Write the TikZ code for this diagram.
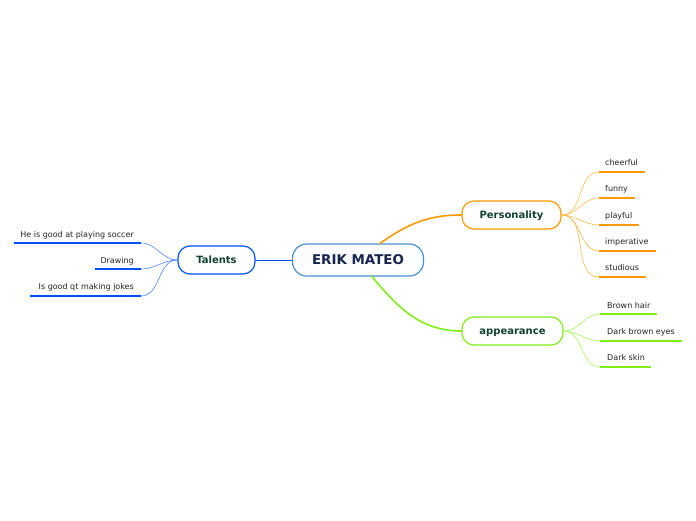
\documentclass[tikz,border=0pt]{standalone}
\usepackage{fontspec}
\setmainfont{DejaVu Sans}
\definecolor{hubline}{RGB}{74,144,206}
\definecolor{hubfill}{RGB}{252,253,255}
\definecolor{hubtext}{RGB}{22,36,78}
\definecolor{toptext}{RGB}{16,64,48}
\definecolor{persline}{RGB}{255,153,0}
\definecolor{appline}{RGB}{128,236,24}
\definecolor{talline}{RGB}{0,80,255}
\definecolor{leaftext}{RGB}{34,34,34}
\begin{document}
\begin{tikzpicture}[x=1pt, y=-1pt, line cap=round, line join=round,
    hub/.style={draw=hubline, fill=hubfill, line width=1.2pt, rounded corners=14pt,
      minimum width=131pt, minimum height=32pt, inner sep=0pt,
      text height=9.5pt, text depth=0pt,
      font=\fontsize{13.4}{15}\selectfont\bfseries, text=hubtext},
    topic/.style={draw=#1, fill=white, line width=1.2pt, rounded corners=12pt,
      minimum height=28pt, inner sep=0pt, text height=7.3pt, text depth=0pt,
      font=\fontsize{10}{12}\selectfont\bfseries, text=toptext},
    leaf/.style={inner sep=0pt, font=\fontsize{8}{10}\selectfont, text=leaftext},
    uline/.style={draw=#1, line width=2.2pt, line cap=butt},
    twig/.style={draw=#1!70, line width=0.6pt},
    limb/.style={draw=#1, line width=1.6pt}]
  \useasboundingbox (0,0) rectangle (696,520);
  % centre
  \node[hub] (erik) at (358,260) {ERIK MATEO};
  % the three topics
  \node[topic=persline, minimum width=99pt] (pers) at (511.5,215) {Personality};
  \node[topic=appline, minimum width=101pt] (app) at (512.5,331) {appearance};
  \node[topic=talline, minimum width=77pt] (tal) at (216.5,260) {Talents};
  \draw[limb=persline] ([xshift=22pt]erik.north) to[out=35,in=180] (pers.west);
  \draw[limb=appline] ([xshift=14pt]erik.south) to[out=-50,in=180] (app.west);
  \draw[talline, line width=0.8pt] (erik.west) -- (tal.east);
  % Personality
  \node[leaf, anchor=west] (cheer) at (605,163) {cheerful};
  \node[leaf, anchor=west] (funny) at (605,189) {funny};
  \node[leaf, anchor=west] (play) at (605,216) {playful};
  \node[leaf, anchor=west] (imp) at (605,242) {imperative};
  \node[leaf, anchor=west] (stud) at (605,268) {studious};
  \coordinate (cheerA) at (599,172); \coordinate (cheerB) at (645,172);
  \coordinate (funnyA) at (599,198); \coordinate (funnyB) at (635,198);
  \coordinate (playA) at (599,225); \coordinate (playB) at (639,225);
  \coordinate (impA) at (599,251); \coordinate (impB) at (656,251);
  \coordinate (studA) at (599,277); \coordinate (studB) at (646,277);
  \foreach \n in {cheer,funny,play,imp,stud}{
    \draw[twig=persline] (pers.east) to[out=0,in=180] (\n A);
    \draw[uline=persline] (\n A) -- (\n B);
  }
  % appearance
  \node[leaf, anchor=west] (hair) at (607,306) {Brown hair};
  \node[leaf, anchor=west] (eyes) at (607,332) {Dark brown eyes};
  \node[leaf, anchor=west] (skin) at (607,358) {Dark skin};
  \coordinate (hairA) at (600,314); \coordinate (hairB) at (657,314);
  \coordinate (eyesA) at (600,341); \coordinate (eyesB) at (682,341);
  \coordinate (skinA) at (600,367); \coordinate (skinB) at (651,367);
  \foreach \n in {hair,eyes,skin}{
    \draw[twig=appline] (app.east) to[out=0,in=180] (\n A);
    \draw[uline=appline] (\n A) -- (\n B);
  }
  % Talents
  \node[leaf, anchor=east] (soc) at (134,235) {He is good at playing soccer};
  \node[leaf, anchor=east] (draw) at (134,261) {Drawing};
  \node[leaf, anchor=east] (joke) at (134,287) {Is good qt making jokes};
  \coordinate (socA) at (141,243); \coordinate (socB) at (14,243);
  \coordinate (drawA) at (141,269); \coordinate (drawB) at (95,269);
  \coordinate (jokeA) at (141,296); \coordinate (jokeB) at (30,296);
  \foreach \n in {soc,draw,joke}{
    \draw[twig=talline] (tal.west) to[out=180,in=0] (\n A);
    \draw[uline=talline] (\n A) -- (\n B);
  }
\end{tikzpicture}
\end{document}
